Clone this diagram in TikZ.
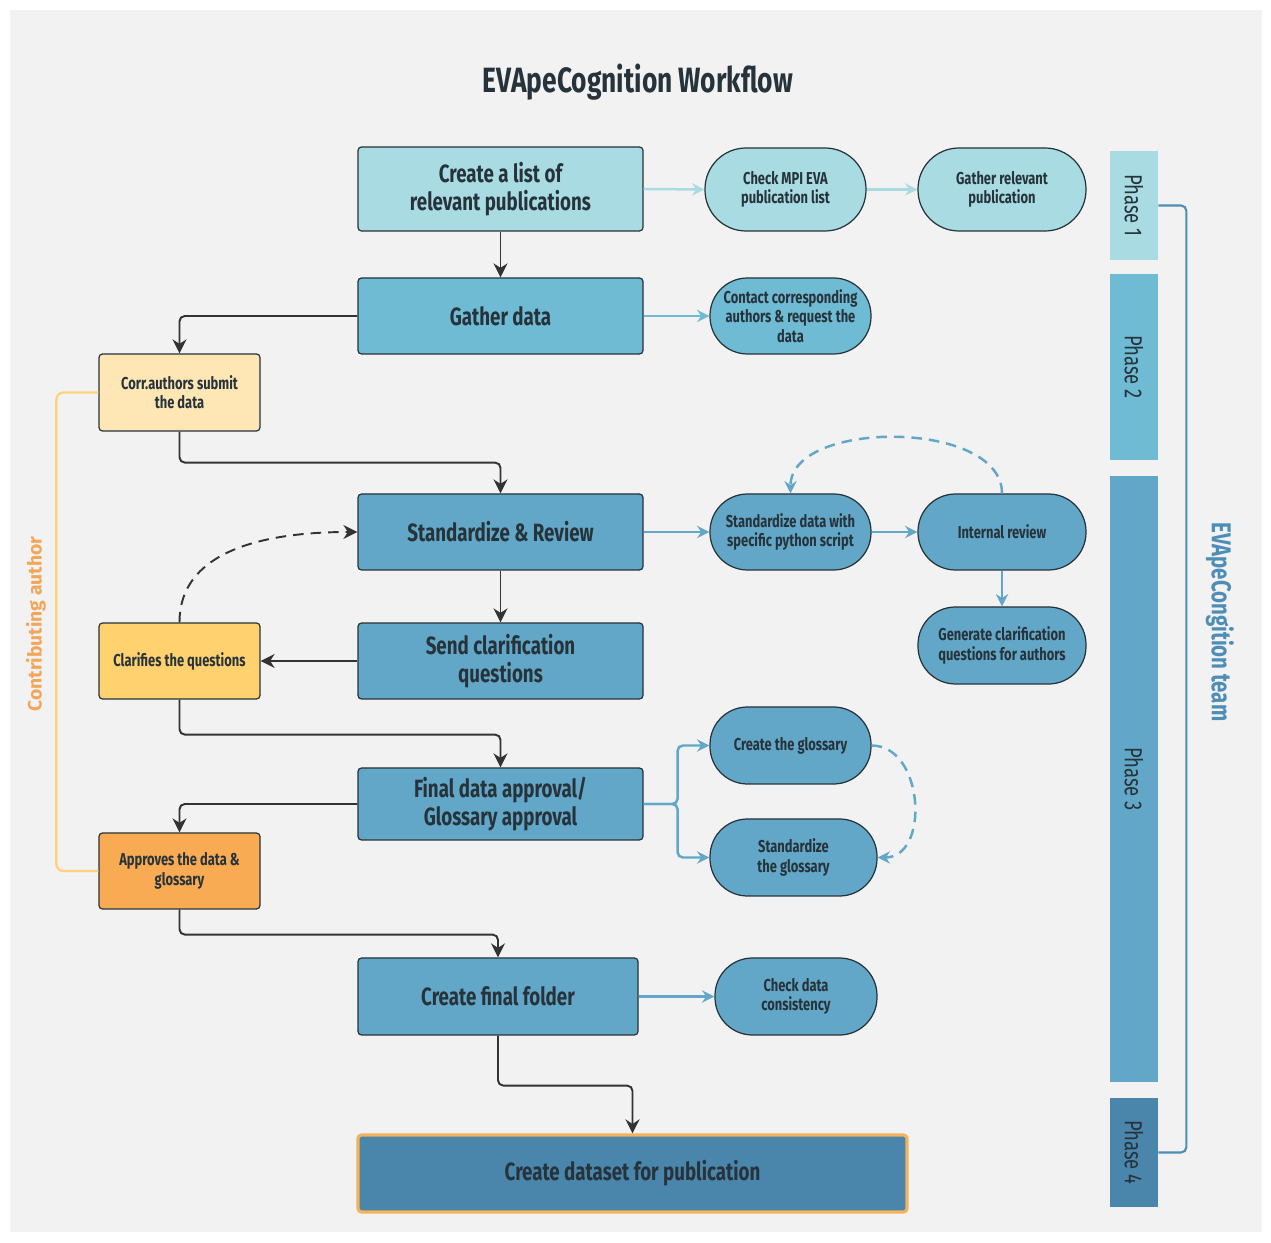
\documentclass[tikz,border=0pt]{standalone}
\usepackage{fontspec}
\setmainfont{Fira Sans}[FakeStretch=0.75]
\newfontfamily\widefont{Fira Sans}
\usepackage{tikz}
\usetikzlibrary{positioning,arrows.meta}
\definecolor{bgc}{HTML}{F2F2F2}
\definecolor{ph1}{HTML}{A8DCE2}
\definecolor{ph2}{HTML}{6FBBD4}
\definecolor{ph3}{HTML}{62A7C7}
\definecolor{ph4}{HTML}{4A85AB}
\definecolor{ink}{HTML}{27333B}
\definecolor{wire}{HTML}{333333}
\definecolor{ylwa}{HTML}{FFE6B5}
\definecolor{ylwb}{HTML}{FFD16F}
\definecolor{orng}{HTML}{F8AB52}
\definecolor{cline}{HTML}{FFD27E}
\definecolor{ctext}{HTML}{F3A65A}
\definecolor{teamc}{HTML}{4D8DB6}
\definecolor{gedge}{HTML}{F2B25E}

\begin{document}
\begin{tikzpicture}[
		box/.style={draw=ink, line width=0.7pt, rounded corners=2pt, minimum width=5.7cm, minimum height=1.52cm, align=center, text=ink, font=\fontsize{14.2}{16}\selectfont\bfseries},
		pill/.style={draw=ink, line width=0.7pt, rounded corners=0.75cm, minimum width=3.22cm, minimum height=1.52cm, align=center, text=ink, font=\fontsize{9.8}{11}\selectfont\bfseries},
		author/.style={draw=ink, line width=0.7pt, rounded corners=2pt, minimum width=3.22cm, minimum height=1.52cm, align=center, text=ink, font=\fontsize{9.8}{11}\selectfont\bfseries},
		phase/.style={minimum width=0.96cm, inner sep=0pt},
		phasetext/.style={rotate=-90, text=ink, font=\fontsize{14}{16}\selectfont},
		flow/.style={draw=wire, line width=1.1pt, rounded corners=3pt, -{Stealth[length=8pt,width=8pt]}},
		link/.style={line width=1.4pt, -{Stealth[length=7pt,width=7pt]}}
	]
		\fill[white] (0,0) rectangle (25.42,24.84);
		\fill[bgc] (0.2,0.2) rectangle (25.24,24.64);

		\node[text=ink, font=\fontsize{20}{24}\selectfont\bfseries] (title) at (12.76,23.20) {EVApeCognition Workflow};

		\node[box, fill=ph1, minimum height=1.68cm] (list) at (10.01,21.06) {Create a list of\\relevant publications};
		\node[pill, fill=ph1, minimum height=1.66cm, rounded corners=0.82cm] (mpi) at (15.71,21.05) {Check MPI EVA\\publication list};
		\node[pill, fill=ph1, minimum height=1.66cm, minimum width=3.36cm, rounded corners=0.82cm] (relpub) at (20.04,21.05) {Gather relevant\\publication};

		\node[box, fill=ph2] (gather) at (10.01,18.52) {Gather data};
		\node[pill, fill=ph2] (contact) at (15.81,18.52) {Contact corresponding\\authors \& request the\\data};
		\node[author, fill=ylwa, minimum height=1.54cm] (submit) at (3.59,16.99) {Corr.authors submit\\the data};

		\node[box, fill=ph3] (review) at (10.01,14.20) {Standardize \& Review};
		\node[pill, fill=ph3] (script) at (15.81,14.20) {Standardize data with\\specific python script};
		\node[pill, fill=ph3, minimum width=3.36cm] (internal) at (20.04,14.20) {Internal review};
		\node[pill, fill=ph3, minimum width=3.36cm, minimum height=1.54cm] (genq) at (20.04,11.93) {Generate clarification\\questions for authors};

		\node[box, fill=ph3] (sendq) at (10.01,11.62) {Send clarification\\questions};
		\node[author, fill=ylwb] (clarify) at (3.59,11.62) {Clarifies the questions};

		\node[box, fill=ph3, minimum height=1.44cm] (approval) at (10.01,8.76) {Final data approval/\\Glossary approval};
		\node[pill, fill=ph3, minimum height=1.54cm] (glossary) at (15.81,9.93) {Create the glossary};
		\node[pill, fill=ph3, minimum height=1.54cm, minimum width=3.34cm] (stdgloss) at (15.87,7.69) {Standardize\\the glossary};
		\node[author, fill=orng] (approve) at (3.59,7.42) {Approves the data \&\\glossary};

		\node[box, fill=ph3, minimum width=5.6cm, minimum height=1.54cm] (folder) at (9.96,4.91) {Create final folder};
		\node[pill, fill=ph3, minimum width=3.24cm, minimum height=1.54cm] (consist) at (15.92,4.91) {Check data\\consistency};

		\node[box, fill=ph4, draw=gedge, line width=1.8pt, minimum width=10.98cm, minimum height=1.54cm] (dataset) at (12.65,1.37) {Create dataset for publication};

		\node[phase, fill=ph1, minimum height=2.18cm] (p1) at (22.68,20.73) {};
		\node[phase, fill=ph2, minimum height=3.72cm] (p2) at (22.68,17.50) {};
		\node[phase, fill=ph3, minimum height=12.12cm] (p3) at (22.68,9.26) {};
		\node[phase, fill=ph4, minimum height=2.18cm] (p4) at (22.68,1.79) {};
		\node[phasetext] at (p1) {Phase 1};
		\node[phasetext] at (p2) {Phase 2};
		\node[phasetext] at (p3) {Phase 3};
		\node[phasetext] at (p4) {Phase 4};

		\draw[teamc, line width=1.2pt, rounded corners=3pt] (p1.east) -- ++(0.56,0) |- (p4.east);
		\node[rotate=-90, text=teamc, font=\fontsize{15.5}{17}\selectfont\bfseries] (team) at (24.40,12.40) {EVApeCongition team};

		\draw[cline, line width=1.3pt, rounded corners=4pt] (submit.west) -- ++(-0.84,0) |- (approve.west);
		\node[rotate=90, text=ctext, font=\widefont\fontsize{11}{12}\selectfont\bfseries] (contrib) at (0.72,12.36) {Contributing author};

		\draw[flow] (list.south) -- (gather.north);
		\draw[flow] (gather.west) -| (submit.north);
		\draw[flow] (submit.south) -- ++(0,-0.62) -| (review.north);
		\draw[flow] (review.south) -- (sendq.north);
		\draw[flow] (sendq.west) -- (clarify.east);
		\draw[flow] (clarify.south) -- ++(0,-0.70) -| (approval.north);
		\draw[flow] (approval.west) -| (approve.north);
		\draw[flow] (approve.south) -- ++(0,-0.50) -| (folder.north);
		\draw[flow] (folder.south) -- ++(0,-1.00) -| (dataset.north);
		\draw[flow, dashed, dash pattern=on 6pt off 4pt] (clarify.north) to[out=90, in=180] (review.west);

		\draw[link, ph1] (list.east) -- (mpi.west);
		\draw[link, ph1] (mpi.east) -- (relpub.west);
		\draw[link, ph2] (gather.east) -- (contact.west);
		\draw[link, ph3] (review.east) -- (script.west);
		\draw[link, ph3] (script.east) -- (internal.west);
		\draw[link, ph3] (internal.south) -- (genq.north);
		\draw[link, ph3, rounded corners=3pt] (approval.east) -- ++(0.68,0) |- (glossary.west);
		\draw[link, ph3, rounded corners=3pt] (approval.east) -- ++(0.68,0) |- (stdgloss.west);
		\draw[link, ph3] (folder.east) -- (consist.west);
		\draw[link, ph3, dashed, dash pattern=on 6pt off 4pt] (internal.north) to[out=90, in=90, looseness=0.9] (script.north);
		\draw[link, ph3, dashed, dash pattern=on 6pt off 4pt] (glossary.east) to[out=0, in=0, looseness=1.2] (stdgloss.east);
	\end{tikzpicture}
\end{document}
